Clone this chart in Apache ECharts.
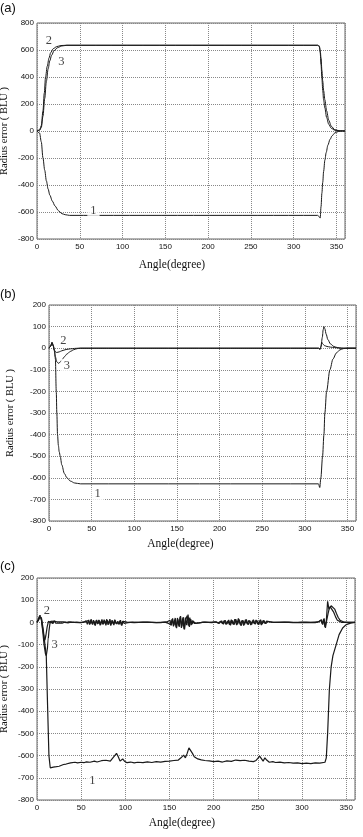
<!DOCTYPE html>
<html>
<head>
<meta charset="utf-8">
<style>
  html, body { margin: 0; padding: 0; background: #fff; }
  #chart { width: 363px; height: 837px; }
</style>
<script src="https://cdn.jsdelivr.net/npm/echarts@6/dist/echarts.min.js"></script>
</head>
<body>
<div id="chart"></div>
<script>
// panel (a) curves, [angle, radius error]
const aCurve1 = [[0,0],[3,-15],[5,-80],[7,-200],[9,-290],[11,-370],[13,-430],[15,-475],[18,-520],[21,-555],[25,-590],[29,-612],[33,-620],[38,-625],
  [328,-625],[330,-635],[331,-645],[332,-560],[333,-460],[334,-380],[335,-300],[336.5,-215],[338,-160],[340,-105],[342.5,-62],[345,-35],[348,-15],[352,-4],[356,0],[360,0]]
const aCurve2 = [[0,0],[3,8],[5,40],[7,150],[8.5,280],[10,400],[12,480],[14,540],[16,580],[19,610],[23,625],[28,633],[34,635],
  [328,635],[330,625],[331,580],[332,490],[333,390],[334,300],[335,230],[336.5,170],[338.5,100],[341,50],[344,20],[348,6],[353,1],[360,0]]
const aCurve3 = [[0,0],[3,5],[5,25],[7,110],[9,240],[11,370],[13,460],[15,520],[17,560],[20,595],[24,617],[29,630],[35,635],
  [328,635],[330,630],[331,600],[332,540],[333,450],[334,370],[335,300],[336.5,230],[338.5,150],[341,80],[344,35],[348,10],[353,2],[360,0]]
const aLabels = [[14,671,'2'],[28.5,516,'3'],[66,-592,'1']]

// panel (b)
const bCurve1 = [[0,0],[2,10],[3.5,25],[5,10],[6.5,-10],[7.5,-50],[8.5,-200],[9.2,-300],[10,-400],[11,-450],[12,-480],[13.2,-500],[15,-540],[18,-580],[21,-600],[25,-615],[30,-624],[37,-628],
  [316,-628],[317.5,-645],[318.8,-600],[320.8,-500],[322.4,-400],[323.5,-300],[325.5,-200],[329.4,-100],[333,-50],[337,-22],[341,-8],[345,-2],[350,0],[360,0]]
const bCurve2 = [[0,0],[2,10],[3.5,28],[5,15],[6,-5],[7,-15],[9,-20],[12,-17],[15,-12],[20,-6],[25,-3],[30,-1],[35,0],
  [316,0],[318,-5],[319,5],[319.7,28],[321,20],[323,12],[326,8],[330,5],[335,3],[340,1],[345,0],[360,0]]
const bCurve3 = [[0,0],[2,10],[3.5,25],[5,10],[6,-10],[7.5,-40],[9,-62],[11,-70],[13,-65],[15,-55],[18,-40],[21,-27],[25,-15],[29,-7],[33,-2],[37,0],
  [316,0],[317.7,-5],[319,10],[320.5,50],[321.5,85],[322.4,100],[323.5,90],[325,65],[327,40],[330,20],[334,8],[338,3],[343,0],[360,0]]
const bLabels = [[17,33,'2'],[21,-80,'3'],[57,-676,'1']]

// panel (c)
const cCurve1 = [[0,0],[3,30],[5,20],[7,-30],[9,-100],[10.5,-150],[12,-380],[13.5,-600],[15,-655],[17,-660],[18.5,-652],[20,-658],[22,-650],[25,-648],[27,-644],[30,-640],[33,-638],[35,-635],[38,-633],[40,-636],
  [43,-630],[46,-633],[50,-630],[53,-632],[56,-628],[60,-630],[62,-624],[65,-625],[68,-629],[70,-627],[73,-623],[75,-626],[78,-621],[80,-620],[83,-625],[85,-615],[88,-600],[90,-590],[92,-605],[94,-625],[96,-630],[97,-615],[99,-625],[102,-632],
  [106,-629],[110,-633],[114,-630],[120,-632],[125,-628],[130,-631],[135,-627],[140,-629],[145,-626],[150,-625],[155,-622],[160,-620],[163,-610],[166,-598],[168,-610],[170,-590],[172,-565],[174,-570],[176,-590],[178,-605],[182,-615],
  [186,-619],[190,-622],[195,-624],[200,-627],[205,-625],[210,-629],[215,-624],[220,-626],[225,-620],[230,-623],[235,-621],[240,-625],[245,-627],[248,-622],[250,-612],[252,-602],[254,-610],[256,-625],[258,-610],[260,-620],[263,-630],
  [267,-627],[270,-631],[275,-629],[280,-633],[285,-631],[290,-634],[295,-633],[300,-636],[305,-634],[310,-636],[315,-633],[320,-634],[326,-630],[327.5,-610],[329,-500],[331,-300],[333,-200],[335,-150],[338.7,-100],[342,-55],[346,-25],[350,-10],[355,-3],[360,0]]
const cCurve2 = [[0,0],[2,15],[3.5,32],[5,15],[6.5,-30],[8,-70],[9,-80],[10,-60],[11.5,-20],[13,5],[14.5,10],[16,-3],[17,8],[18,-4],[19,6],[20,-2],[22,4],[24,-3],[26,3],[28,-2],[30,2],[33,-1],[36,2],[40,0],[45,1],[50,-1],
  [54,2],[56,-6],[58,8],[59.5,-10],[61,12],[62.5,-8],[64,10],[65.5,-12],[67,9],[68.5,-7],[70,11],[71.5,-13],[73,8],[74.5,-9],[76,12],[77.5,-6],[79,14],[80.5,-11],[82,7],[83.5,-14],[85,10],[86.5,-8],[88,12],[89.5,-5],[91,4],[92.5,-6],[94,8],[95.5,-12],[97,6],[98.5,-4],[100,3],
  [103,-1],[108,1],[115,0],[125,1],[135,-1],[145,1],[148,-3],[150,6],[151.5,-10],[153,15],[154.5,-18],[156,12],[157.5,-22],[159,20],[160.5,-15],[162,25],[163.5,-25],[165,18],[166.5,-30],[168,22],[169.5,-12],[171,35],[172.5,-20],[174,15],[175.5,-8],[177,6],[179,-4],[181,3],[184,-2],[188,1],[195,0],
  [202,2],[205,-3],[208,5],[210,-6],[212,8],[214,-9],[216,6],[218,-10],[220,12],[222,-8],[224,14],[226,-12],[228,18],[230,-10],[232,9],[234,-14],[236,12],[238,-7],[240,10],[242,-12],[244,8],[246,-6],[248,11],[250,-9],[252,7],[254,-12],[256,9],[258,-5],[260,6],[262,-3],[264,2],[268,0],
  [280,1],[290,-1],[300,1],[310,0],[318,2],[320,-4],[321.5,10],[323,-8],[324.5,15],[326,-20],[327.5,5],[329,95],[330.5,60],[332,70],[334,62],[336,45],[338,25],[340,10],[342,3],[345,0],[350,0],[360,0]]
const cCurve3 = [[0,0],[2,12],[3.5,28],[5,10],[6.5,-40],[8,-100],[9.5,-140],[10.5,-150],[12,-110],[13.5,-40],[15,5],[16.5,12],[18,-5],[19.5,7],[21,-3],[23,5],[25,-2],[27,4],[29,-3],[32,2],[35,-2],[38,1],[42,0],[48,-1],
  [53,1],[55.5,8],[57,-9],[58.5,11],[60,-7],[61.5,13],[63,-10],[64.5,6],[66,-14],[67.5,11],[69,-6],[70.5,9],[72,-11],[73.5,13],[75,-8],[76.5,7],[78,-13],[79.5,10],[81,-6],[82.5,15],[84,-9],[85.5,6],[87,-12],[88.5,9],[90,-7],[91.5,5],[93,-9],[94.5,10],[96,-14],[97.5,5],[99,-3],
  [102,1],[110,-1],[120,1],[130,0],[140,-1],[147,2],[149,-5],[150.5,10],[152,-14],[153.5,18],[155,-12],[156.5,20],[158,-26],[159.5,14],[161,-20],[162.5,28],[164,-18],[165.5,24],[167,-32],[168.5,14],[170,30],[171.5,-15],[173,22],[174.5,-12],[176,8],[178,-5],[180,4],[183,-2],[190,1],[198,-1],
  [203,3],[206,-5],[209,7],[211,-8],[213,10],[215,-7],[217,11],[219,-13],[221,9],[223,-11],[225,15],[227,-9],[229,12],[231,-15],[233,10],[235,-9],[237,13],[239,-11],[241,7],[243,-10],[245,12],[247,-8],[249,9],[251,-11],[253,12],[255,-7],[257,8],[259,-6],[261,4],[263,-2],[266,1],
  [275,0],[285,1],[295,-1],[305,0],[315,-1],[319,3],[320.5,-6],[322,12],[323.5,-10],[325,18],[326.5,-25],[328,10],[329.5,40],[331,65],[333,75],[335,72],[337,60],[339,40],[341,22],[343,10],[345,4],[348,1],[352,0],[360,0]]
const cLabels = [[11.3,53,'2'],[20,-100,'3'],[62.7,-711,'1']]

const panelTitles = ['(a)', '(b)', '(c)']
const xName = 'Angle(degree)'
const yName = 'Radius error ( BLU )'

const chart = echarts.init(document.getElementById('chart'))

const tickFont = { fontFamily: 'Liberation Sans, Arial', fontSize: 8, color: '#111' }
const nameFont = { fontFamily: 'Liberation Serif, Times New Roman', fontSize: 11.5, color: '#111' }
const gridLine = { show: true, lineStyle: { color: '#888', type: [1, 1], width: 1 } }

const grids = [
  { left: 37, top: 23, width: 308, height: 216 },
  { left: 49, top: 305, width: 307, height: 216 },
  { left: 37, top: 578, width: 318, height: 222 },
].map(g => ({ ...g, show: true, borderColor: '#666', borderWidth: 1, outerBoundsMode: 'none', containLabel: false }))

const xShift = [38, 44, 28]
const xGap = [20, 17, 17]
const yGap = [27, 33, 27]
const yRange = [[-800, 800, 200], [-800, 200, 100], [-800, 200, 100]]

const xAxis = [0, 1, 2].map(i => ({
  type: 'value', gridIndex: i, min: 0, max: 360, interval: 50,
  name: xName, nameLocation: 'middle', nameGap: xGap[i], nameMoveOverlap: false,
  nameTextStyle: { ...nameFont, padding: [0, xShift[i], 0, 0] },
  axisLine: { show: false }, axisTick: { show: false },
  axisLabel: { ...tickFont, margin: 4, showMaxLabel: false },
  splitLine: gridLine,
}))

const yAxis = [0, 1, 2].map(i => ({
  type: 'value', gridIndex: i, min: yRange[i][0], max: yRange[i][1], interval: yRange[i][2],
  name: yName, nameLocation: 'middle', nameGap: yGap[i], nameMoveOverlap: false,
  nameTextStyle: { ...nameFont, fontSize: 10.5 },
  axisLine: { show: false }, axisTick: { show: false },
  axisLabel: { ...tickFont, margin: 3 },
  splitLine: gridLine,
}))

function curve(i, data, smooth) {
  return {
    type: 'line', xAxisIndex: i, yAxisIndex: i, data, showSymbol: false,
    smooth: smooth ? 0.3 : false, smoothMonotone: 'x', animation: false,
    lineStyle: { color: '#1a1a1a', width: smooth ? 1 : 1.2 },
  }
}

function labels(i, data) {
  return {
    type: 'scatter', xAxisIndex: i, yAxisIndex: i, data, symbolSize: 1, animation: false,
    itemStyle: { color: 'rgba(0,0,0,0)' }, z: 5,
    label: {
      show: true, position: 'inside', formatter: p => p.value[2],
      fontFamily: 'Liberation Serif, Times New Roman', fontSize: 12.5, color: '#111',
      backgroundColor: '#fff', padding: [0, 3],
    },
  }
}

chart.setOption({
  backgroundColor: '#fff',
  animation: false,
  grid: grids,
  xAxis,
  yAxis,
  graphic: panelTitles.map((t, i) => ({
    type: 'text', left: 0, top: [2, 288, 560][i],
    style: { text: t, font: '13px Liberation Sans, Arial', fill: '#111' },
  })),
  series: [
    curve(0, aCurve1, true), curve(0, aCurve2, true), curve(0, aCurve3, true), labels(0, aLabels),
    curve(1, bCurve1, true), curve(1, bCurve2, true), curve(1, bCurve3, true), labels(1, bLabels),
    curve(2, cCurve1, false), curve(2, cCurve2, false), curve(2, cCurve3, false), labels(2, cLabels),
  ],
})
</script>
</body>
</html>
